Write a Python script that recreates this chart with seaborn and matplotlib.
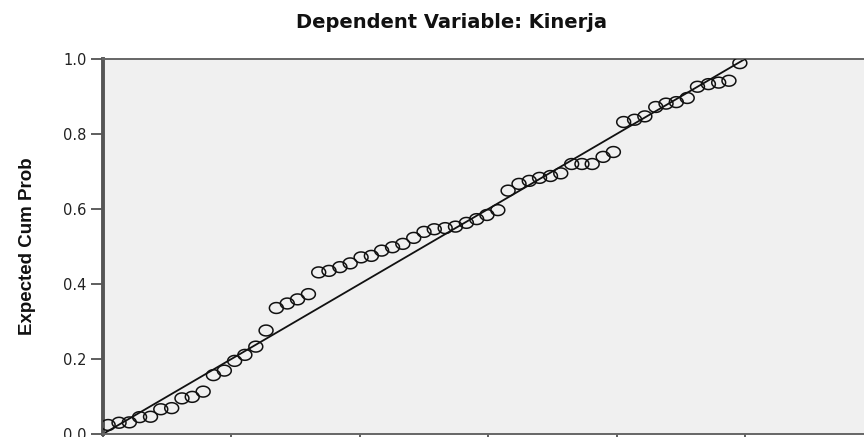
import matplotlib
matplotlib.use("Agg")
import matplotlib.pyplot as plt
from matplotlib.path import Path
from matplotlib.markers import MarkerStyle
import numpy as np
import pandas as pd
import seaborn as sns

# Normal P-P plot of regression standardized residuals (61 cases)
observed_cum_prob = [
    0.008, 0.025, 0.041, 0.057, 0.074, 0.090, 0.107, 0.123, 0.139, 0.156,
    0.172, 0.189, 0.205, 0.221, 0.238, 0.254, 0.270, 0.287, 0.303, 0.320,
    0.336, 0.352, 0.369, 0.385, 0.402, 0.418, 0.434, 0.451, 0.467, 0.484,
    0.500, 0.516, 0.533, 0.549, 0.566, 0.582, 0.598, 0.615, 0.631, 0.648,
    0.664, 0.680, 0.697, 0.713, 0.730, 0.746, 0.762, 0.779, 0.795, 0.811,
    0.828, 0.844, 0.861, 0.877, 0.893, 0.910, 0.926, 0.943, 0.959, 0.975,
    0.992,
]
expected_cum_prob = [
    0.024, 0.030, 0.031, 0.045, 0.046, 0.066, 0.069, 0.095, 0.099, 0.113,
    0.157, 0.169, 0.195, 0.211, 0.233, 0.276, 0.336, 0.348, 0.359, 0.373,
    0.431, 0.435, 0.445, 0.455, 0.471, 0.475, 0.489, 0.498, 0.507, 0.523,
    0.539, 0.546, 0.549, 0.553, 0.563, 0.573, 0.584, 0.597, 0.649, 0.667,
    0.675, 0.683, 0.688, 0.695, 0.720, 0.720, 0.720, 0.739, 0.752, 0.832,
    0.838, 0.847, 0.872, 0.881, 0.885, 0.896, 0.926, 0.933, 0.937, 0.942,
    0.989,
]
diagonal = [0.0, 1.0]
y_ticks = [0.0, 0.2, 0.4, 0.6, 0.8, 1.0]
x_ticks = [0.0, 0.2, 0.4, 0.6, 0.8, 1.0]

title_text = "Dependent Variable: Kinerja"
ylabel_text = "Expected Cum Prob"

df = pd.DataFrame({"observed": observed_cum_prob, "expected": expected_cum_prob})
ref = pd.DataFrame({"x": diagonal, "y": diagonal})

sns.set_theme(style="white")
plt.rcParams["font.family"] = ["DejaVu Sans"]

fig = plt.figure(figsize=(8.64, 4.37), dpi=100)
fig.patch.set_facecolor("white")
ax = fig.add_axes([103 / 864, 3 / 437, 1 - 103 / 864, (434 - 59) / 437])
ax.set_facecolor("#f0f0f0")

# slightly wide open ellipse used as the point marker
t = np.linspace(0, 2 * np.pi, 60)
ellipse = Path(np.column_stack([0.5 * np.cos(t), 0.39 * np.sin(t)]), closed=True)
ring = MarkerStyle(ellipse)

sns.lineplot(data=ref, x="x", y="y", ax=ax, color="#111111", linewidth=1.3,
             zorder=2)
sns.scatterplot(data=df, x="observed", y="expected", ax=ax, marker=ring,
                s=100, facecolor="none", edgecolor="#111111", linewidth=1.1,
                zorder=3)

ax.set_xlim(0, (864 - 103) / 642)
ax.set_ylim(0, 1.0)
ax.set_xticks(x_ticks)
ax.set_yticks(y_ticks)
ax.set_yticklabels([f"{v:.1f}" for v in y_ticks])
ax.tick_params(axis="y", direction="out", length=8.5, width=1.1,
               color="#333333", labelsize=10.5, labelcolor="#222222", pad=3.5,
               left=True)
ax.tick_params(axis="x", direction="out", length=6, width=1.1,
               color="#333333", labelbottom=False, bottom=True)
ax.set_xlabel("")
ax.set_ylabel("")

ax.spines["left"].set_linewidth(2.8)
ax.spines["left"].set_color("#555555")
for side in ("top", "bottom"):
    ax.spines[side].set_linewidth(1.4)
    ax.spines[side].set_color("#666666")
ax.spines["right"].set_visible(False)

fig.text(452 / 864, 1 - 22 / 437, title_text, ha="center", va="center",
         fontsize=14, fontweight="bold", color="#111111")
fig.text(28 / 864, 1 - 246 / 437, ylabel_text, ha="center", va="center",
         rotation=90, fontsize=13.5, fontweight="bold", color="#111111",
         family=["Liberation Sans", "DejaVu Sans"])

fig.savefig("out.png", dpi=100)
